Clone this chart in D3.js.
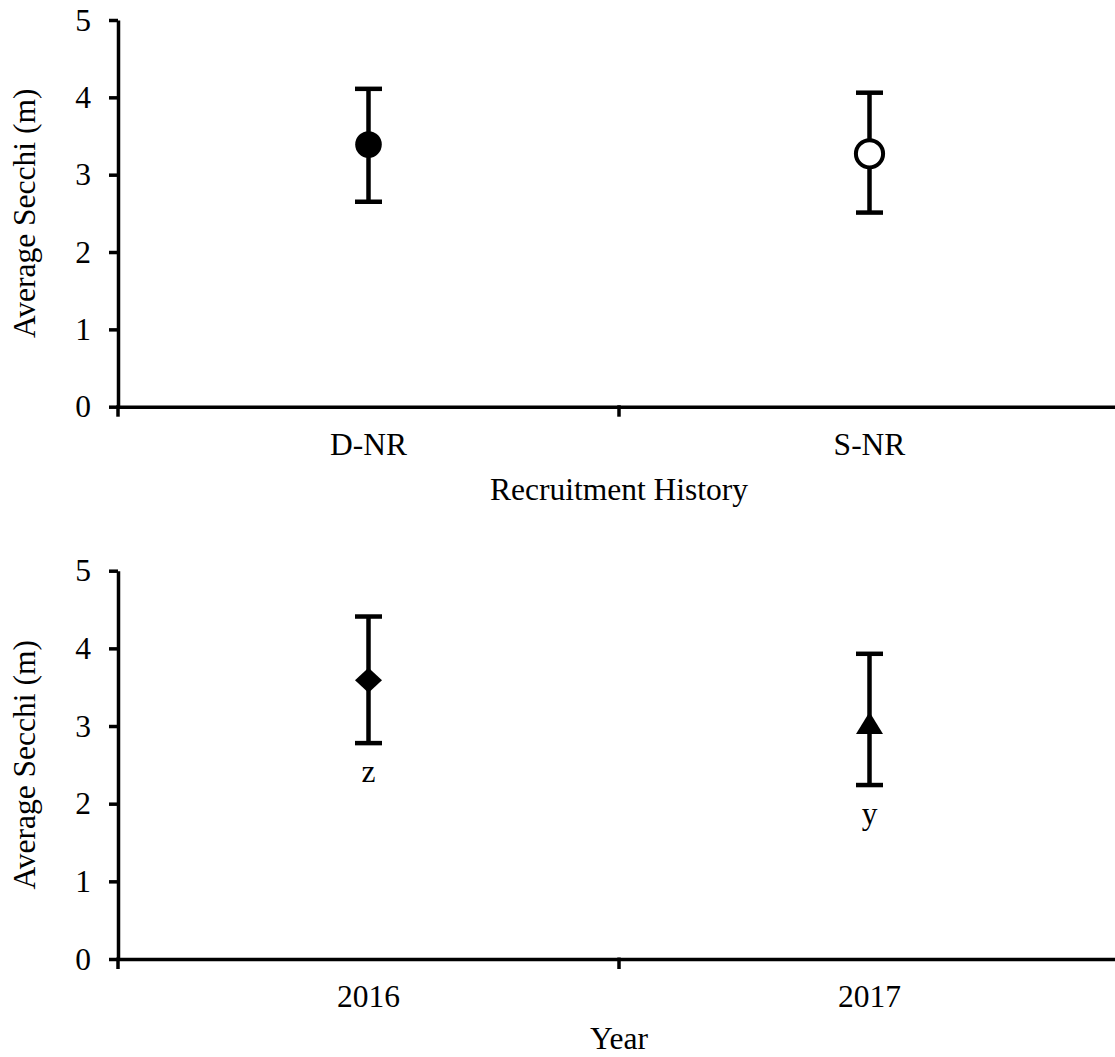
<!DOCTYPE html>
<html>
<head>
<meta charset="utf-8">
<script src="https://cdn.jsdelivr.net/npm/d3@7"></script>
<style>
  body { margin: 0; background: #fff; }
  svg { display: block; }
  text { font-family: "Liberation Serif", "Times New Roman", serif; fill: #000; }
</style>
</head>
<body>
<svg id="chart" width="1115" height="1057"></svg>
<script>
// Top panel: recruitment history
const historyCats = ["D-NR", "S-NR"];
const historyMeans = [3.39, 3.27];
const historyUpper = [4.11, 4.06];
const historyLower = [2.65, 2.51];

// Bottom panel: year
const yearCats = ["2016", "2017"];
const yearMeans = [3.59, 3.04];
const yearUpper = [4.41, 3.93];
const yearLower = [2.78, 2.24];
const yearLetters = ["z", "y"];

const yTicks = [0, 1, 2, 3, 4, 5];

const svg = d3.select("#chart");
const fontSize = 31.5;

// Draws one panel, top/bottom are pixel positions of the plot area
function drawPanel(top, bottom, cats, means, upper, lower, markers, xTitle, titleGap, letters) {
    let x = d3.scaleBand()
        .domain(cats)
        .range([118, 1120])
        .padding(0);

    let y = d3.scaleLinear()
        .domain([0, 5])
        .range([bottom, top]);

    let g = svg.append("g");

    // y axis
    let yAxis = d3.axisLeft(y)
        .tickValues(yTicks)
        .tickFormat(d3.format("d"))
        .tickSize(9)
        .tickSizeOuter(0)
        .tickPadding(18);

    let ya = g.append("g")
        .attr("transform", "translate(118,0)")
        .call(yAxis);
    ya.select(".domain").attr("stroke", "#000").attr("stroke-width", 3.5);
    ya.selectAll(".tick line").attr("stroke", "#000").attr("stroke-width", 3.5);
    ya.selectAll(".tick text")
        .style("font-size", fontSize + "px")
        .attr("fill", "#000");

    // x axis, labels at band centres
    let xAxis = d3.axisBottom(x)
        .tickSize(0)
        .tickSizeOuter(0)
        .tickPadding(26);

    let xa = g.append("g")
        .attr("transform", `translate(0,${bottom})`)
        .call(xAxis);
    xa.select(".domain").attr("stroke", "#000").attr("stroke-width", 3.5);
    xa.selectAll(".tick text")
        .style("font-size", fontSize + "px")
        .attr("fill", "#000");

    // tick marks at band boundaries
    let bounds = cats.map(c => x(c)).concat([x.range()[1]]);
    g.selectAll(".bound")
        .data(bounds)
        .join("line")
        .attr("x1", d => d)
        .attr("x2", d => d)
        .attr("y1", bottom - 1.5)
        .attr("y2", bottom + 10)
        .attr("stroke", "#000")
        .attr("stroke-width", 3.5);

    // axis titles
    g.append("text")
        .attr("x", (x.range()[0] + x.range()[1]) / 2)
        .attr("y", bottom + titleGap)
        .attr("text-anchor", "middle")
        .style("font-size", fontSize + "px")
        .text(xTitle);

    g.append("text")
        .attr("transform", `translate(35,${(top + bottom) / 2}) rotate(-90)`)
        .attr("text-anchor", "middle")
        .style("font-size", fontSize + "px")
        .text("Average Secchi (m)");

    let cx = i => x(cats[i]) + x.bandwidth() / 2;
    let idx = d3.range(cats.length);

    // error bars
    g.selectAll(".err")
        .data(idx)
        .join("line")
        .attr("x1", cx).attr("x2", cx)
        .attr("y1", i => y(upper[i]))
        .attr("y2", i => y(lower[i]))
        .attr("stroke", "#000")
        .attr("stroke-width", 4.5);

    let caps = idx.flatMap(i => [[i, upper[i]], [i, lower[i]]]);
    g.selectAll(".cap")
        .data(caps)
        .join("line")
        .attr("x1", d => cx(d[0]) - 13.5)
        .attr("x2", d => cx(d[0]) + 13.5)
        .attr("y1", d => y(d[1]))
        .attr("y2", d => y(d[1]))
        .attr("stroke", "#000")
        .attr("stroke-width", 4.5);

    // markers
    idx.forEach(i => {
        let m = markers[i];
        let px = cx(i), py = y(means[i]);
        if (m === "circle") {
            g.append("circle").attr("cx", px).attr("cy", py).attr("r", 13.3)
                .attr("fill", "#000");
        } else if (m === "open") {
            g.append("circle").attr("cx", px).attr("cy", py).attr("r", 13.6)
                .attr("fill", "#fff").attr("stroke", "#000").attr("stroke-width", 4);
        } else if (m === "diamond") {
            g.append("path")
                .attr("d", `M${px},${py - 12.5} L${px + 13.5},${py} L${px},${py + 12.5} L${px - 13.5},${py} Z`)
                .attr("fill", "#000");
        } else if (m === "triangle") {
            g.append("path")
                .attr("d", `M${px},${py - 11} L${px + 13.5},${py + 11} L${px - 13.5},${py + 11} Z`)
                .attr("fill", "#000");
        }
    });

    // significance letters
    if (letters) {
        g.selectAll(".letter")
            .data(idx)
            .join("text")
            .attr("x", cx)
            .attr("y", i => y(lower[i]) + 39)
            .attr("text-anchor", "middle")
            .style("font-size", fontSize + "px")
            .text(i => letters[i]);
    }
}

drawPanel(20, 406.7, historyCats, historyMeans, historyUpper, historyLower,
    ["circle", "open"], "Recruitment History", 93, null);
drawPanel(570.7, 959, yearCats, yearMeans, yearUpper, yearLower,
    ["diamond", "triangle"], "Year", 89.5, yearLetters);
</script>
</body>
</html>
